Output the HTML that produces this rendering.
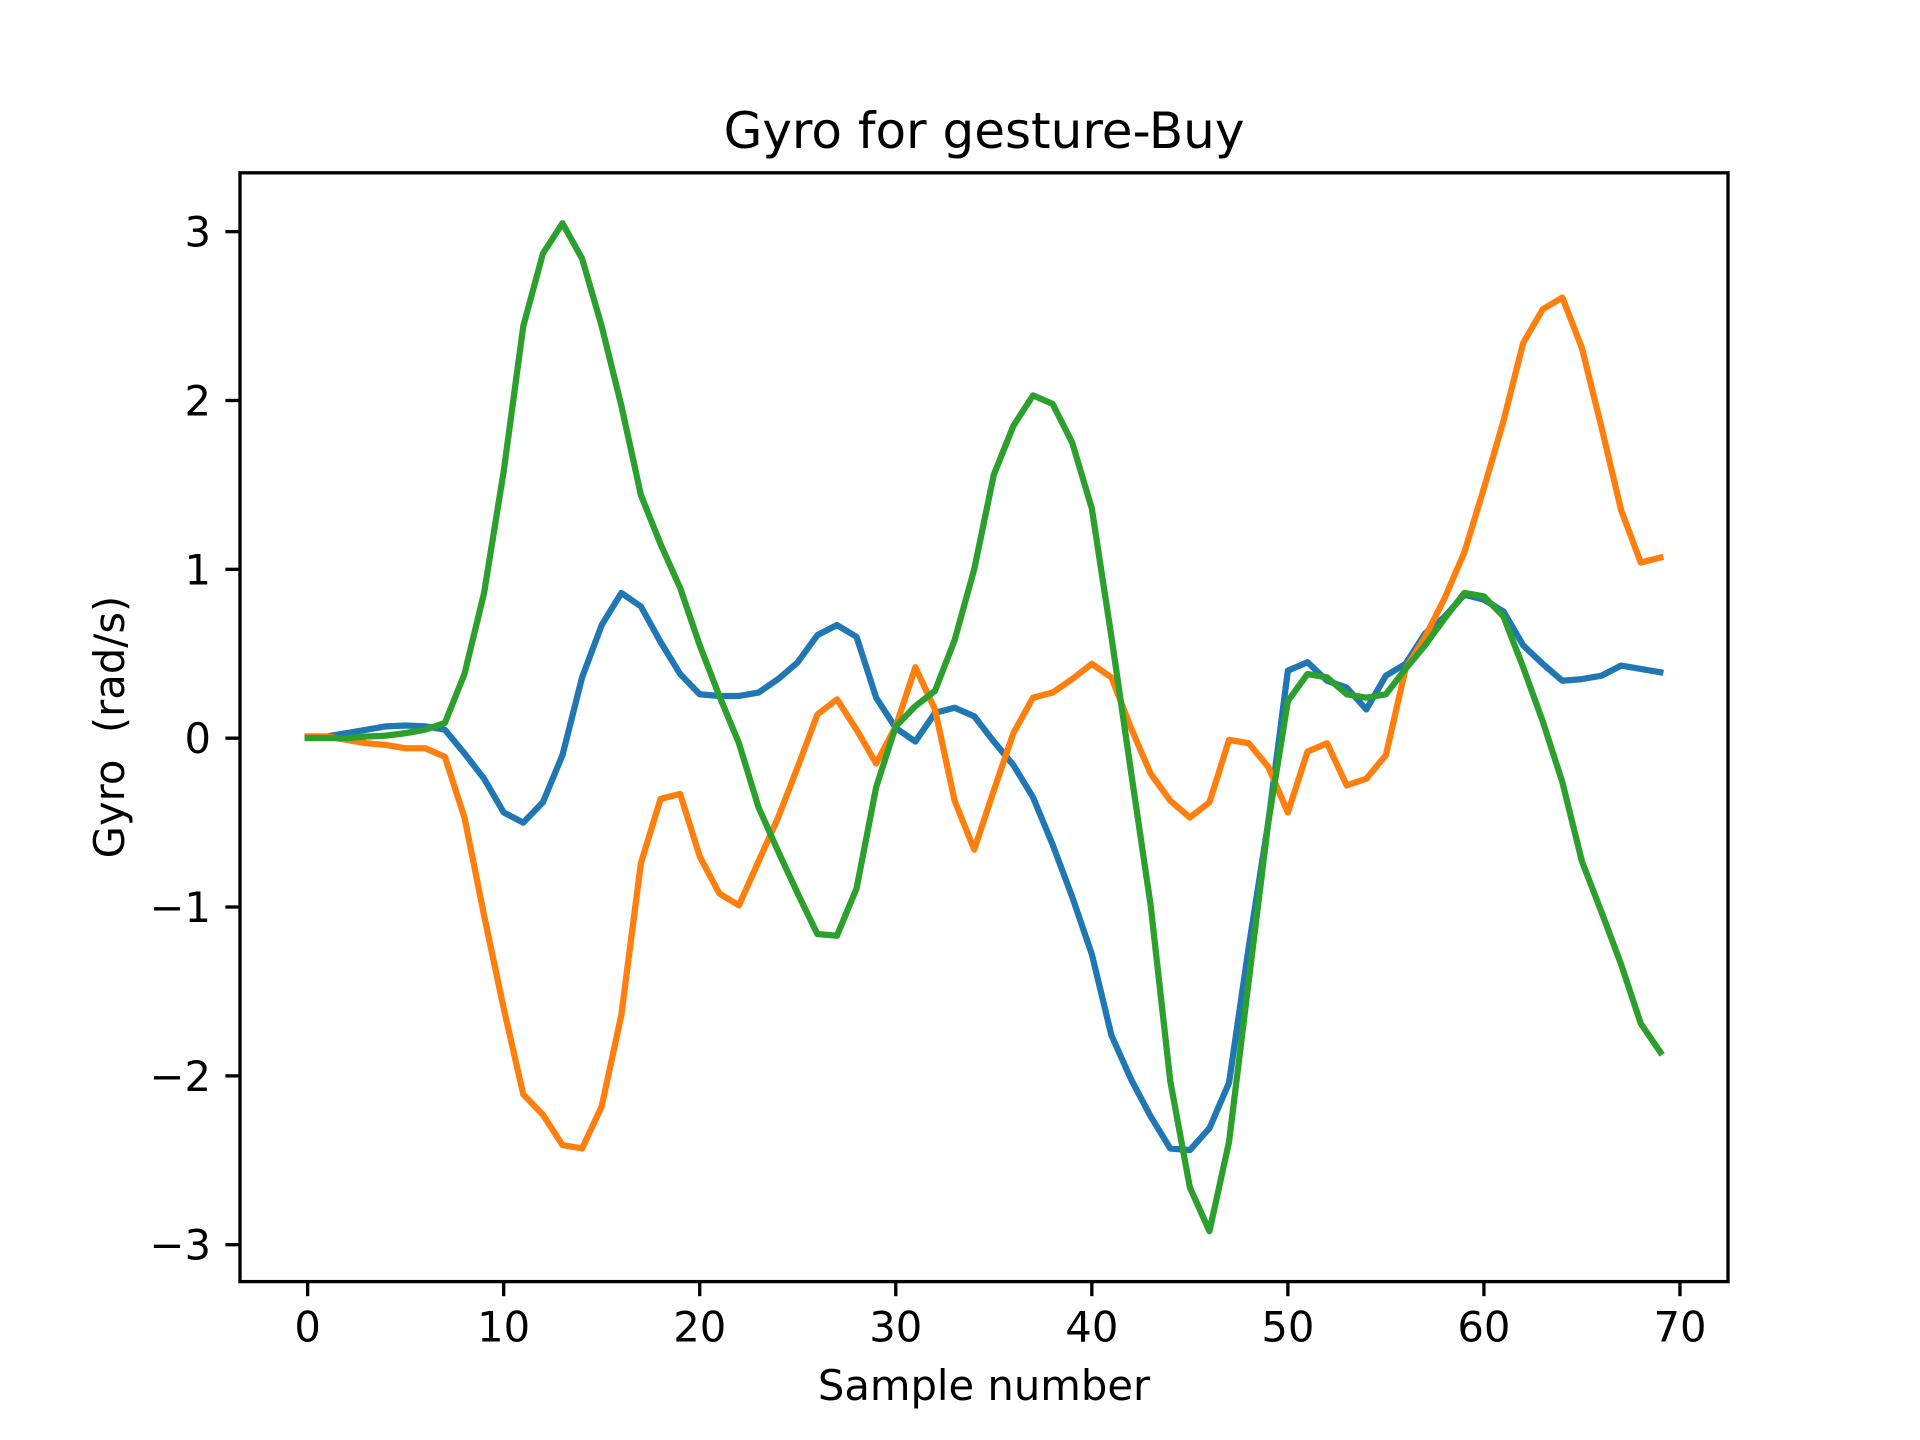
<!DOCTYPE html>
<html><head><meta charset="utf-8"><style>html,body{margin:0;padding:0;background:#fff}svg{display:block}text{font-family:"DejaVu Sans","Liberation Sans",sans-serif;fill:#000}</style></head>
<body>
<svg id="chart" width="1920" height="1440" xmlns="http://www.w3.org/2000/svg">
<rect width="1920" height="1440" fill="#fff"/>
<g id="plot"></g>
<rect x="240" y="172.8" width="1488" height="1108.8" fill="none" stroke="#000" stroke-width="3.33"/>
<g id="ticks"></g>
<text x="984" y="148" font-size="50" text-anchor="middle">Gyro for gesture-Buy</text>
<text x="984" y="1400" font-size="41.7" text-anchor="middle">Sample number</text>
<text x="124" y="727" font-size="41.7" text-anchor="middle" transform="rotate(-90 124 727)" xml:space="preserve">Gyro  (rad/s)</text>
</svg>
<script>
const xTicks=[0,10,20,30,40,50,60,70];
const yTicks=[-3,-2,-1,0,1,2,3];
const seriesX=[0.01,0.01,0.03,0.05,0.07,0.075,0.07,0.05,-0.09,-0.24,-0.44,-0.50,-0.38,-0.10,0.36,0.67,0.86,0.78,0.57,0.38,0.26,0.25,0.25,0.27,0.35,0.45,0.61,0.67,0.60,0.24,0.06,-0.02,0.15,0.18,0.13,-0.02,-0.16,-0.35,-0.63,-0.94,-1.28,-1.76,-2.02,-2.24,-2.43,-2.44,-2.31,-2.04,-1.24,-0.5,0.40,0.45,0.34,0.30,0.17,0.37,0.44,0.62,0.72,0.85,0.82,0.75,0.55,0.44,0.34,0.35,0.37,0.43,0.41,0.39];
const seriesY=[0.01,0.01,-0.01,-0.03,-0.04,-0.06,-0.06,-0.11,-0.47,-1.05,-1.60,-2.11,-2.23,-2.41,-2.43,-2.18,-1.64,-0.74,-0.36,-0.33,-0.70,-0.92,-0.99,-0.73,-0.47,-0.17,0.14,0.23,0.05,-0.15,0.07,0.42,0.17,-0.37,-0.66,-0.31,0.03,0.24,0.27,0.35,0.44,0.36,0.06,-0.21,-0.37,-0.47,-0.38,-0.01,-0.03,-0.17,-0.44,-0.08,-0.03,-0.28,-0.24,-0.10,0.41,0.60,0.83,1.10,1.48,1.88,2.34,2.54,2.61,2.31,1.84,1.35,1.04,1.07];
const seriesZ=[0,0,0,0.01,0.015,0.03,0.05,0.09,0.38,0.86,1.58,2.44,2.87,3.05,2.84,2.44,1.97,1.44,1.15,0.89,0.55,0.25,-0.03,-0.41,-0.67,-0.92,-1.16,-1.17,-0.89,-0.29,0.07,0.19,0.28,0.58,1.00,1.56,1.85,2.03,1.98,1.75,1.36,0.6,-0.2,-0.99,-2.03,-2.66,-2.92,-2.39,-1.44,-0.5,0.22,0.38,0.36,0.26,0.24,0.26,0.41,0.55,0.71,0.86,0.84,0.72,0.42,0.10,-0.26,-0.73,-1.03,-1.34,-1.69,-1.86];
const NS="http://www.w3.org/2000/svg";
const L=240,R=1728,T=172.8,B=1281.6;
const all=seriesX.concat(seriesY,seriesZ);
const n=seriesX.length;
const xmin=-(n-1)*0.05,xmax=(n-1)*1.05;
const dmin=Math.min(...all),dmax=Math.max(...all),rg=dmax-dmin;
const ymin=dmin-0.05*rg,ymax=dmax+0.05*rg;
const sx=v=>L+(v-xmin)/(xmax-xmin)*(R-L);
const sy=v=>B-(v-ymin)/(ymax-ymin)*(B-T);
const plot=document.getElementById('plot');
const names=['gyro-x-line','gyro-y-line','gyro-z-line'];
const colors=['#1f77b4','#ff7f0e','#2ca02c'];
[seriesX,seriesY,seriesZ].forEach((s,i)=>{
  const p=document.createElementNS(NS,'polyline');
  
  
  p.setAttribute('points',s.map((v,j)=>sx(j)+','+sy(v)).join(' '));
  p.setAttribute('fill','none');p.setAttribute('stroke',colors[i]);
  p.setAttribute('stroke-width','6.25');p.setAttribute('stroke-linejoin','round');p.setAttribute('stroke-linecap','square');
  plot.appendChild(p);
});
const tg=document.getElementById('ticks');
xTicks.forEach(t=>{
  const x=sx(t);
  const l=document.createElementNS(NS,'line');
  
  
  l.setAttribute('x1',x);l.setAttribute('x2',x);l.setAttribute('y1',B);l.setAttribute('y2',B+14.6);
  l.setAttribute('stroke','#000');l.setAttribute('stroke-width','3.33');tg.appendChild(l);
  const tx=document.createElementNS(NS,'text');
  
  
  tx.setAttribute('x',x);tx.setAttribute('y',B+60);tx.setAttribute('font-size','41.7');tx.setAttribute('text-anchor','middle');
  tx.textContent=String(t);tg.appendChild(tx);
});
yTicks.forEach(t=>{
  const y=sy(t);
  const l=document.createElementNS(NS,'line');
  
  
  l.setAttribute('x1',L-14.6);l.setAttribute('x2',L);l.setAttribute('y1',y);l.setAttribute('y2',y);
  l.setAttribute('stroke','#000');l.setAttribute('stroke-width','3.33');tg.appendChild(l);
  const tx=document.createElementNS(NS,'text');
  
  
  tx.setAttribute('x',L-29);tx.setAttribute('y',y+15);tx.setAttribute('font-size','41.7');tx.setAttribute('text-anchor','end');
  tx.textContent=(t<0?'\u2212':'')+Math.abs(t);tg.appendChild(tx);
});
</script>
</body></html>
